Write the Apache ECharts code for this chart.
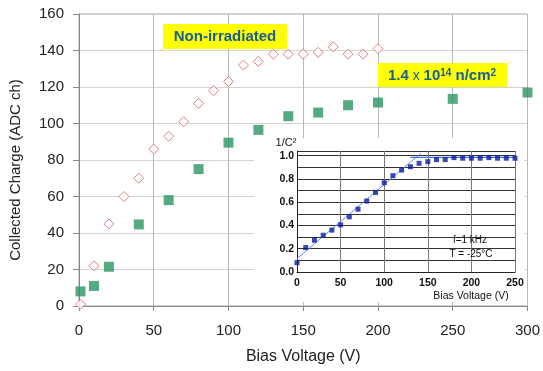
<!DOCTYPE html>
<html>
<head>
    <meta charset="utf-8">
    <script src="https://cdn.jsdelivr.net/npm/echarts@6/dist/echarts.min.js"></script>
</head>
<body style="margin:0;background:#fff">
<div id="chart" style="width:543px;height:371px"></div>
<script>
    // main chart: collected charge vs bias voltage
    var nonIrrVolt = [1, 10, 20, 30, 40, 50, 60, 70, 80, 90, 100, 110, 120, 130, 140, 150, 160, 170, 180, 190, 200];
    var nonIrrCharge = [1, 22, 45, 60, 70, 86, 93, 101, 111, 118, 123, 132, 134, 138, 138, 138, 139, 142, 138, 138, 141];
    var irrVolt = [1, 10, 20, 40, 60, 80, 100, 120, 140, 160, 180, 200, 250, 300];
    var irrCharge = [8, 11, 21.5, 44.7, 58, 75, 89.5, 96.5, 104, 106, 110, 111.5, 113.5, 117];

    // inset: 1/C^2 vs bias voltage
    var cvVolt = [0, 10, 20, 30, 40, 50, 60, 70, 80, 90, 100, 110, 120, 130, 140, 150, 160, 170, 180, 190, 200, 210, 220, 230, 240, 250];
    var cvValue = [0.08, 0.21, 0.273, 0.316, 0.36, 0.405, 0.474, 0.54, 0.61, 0.684, 0.767, 0.828, 0.876, 0.905, 0.934, 0.948,
        0.966, 0.966, 0.983, 0.978, 0.978, 0.978, 0.983, 0.978, 0.978, 0.978];
    var riseFit = [[0, 0.115], [142, 1.02]];
    var flatFit = [[130, 0.986], [250, 0.986]];

    var font = 'Arial, "Liberation Sans", sans-serif';
    var labelBlue = '#17608e';

    var pairs = function (xs, ys) {
        var res = [];
        for (var i = 0; i < xs.length; i++) {
            res.push([xs[i], ys[i]]);
        }
        return res;
    };

    var myChart = echarts.init(document.getElementById('chart'));

    var option = {
        animation: false,
        backgroundColor: '#fff',
        grid: [
            {left: 79, top: 14, width: 450, height: 292, show: true, borderColor: '#a0a0a0', borderWidth: 1},
            {left: 297, top: 151, width: 218, height: 121, z: 10}
        ],
        xAxis: [
            {
                type: 'value', gridIndex: 0, min: 0, max: 300, interval: 50,
                name: 'Bias Voltage (V)', nameLocation: 'middle', nameGap: 43,
                nameTextStyle: {fontFamily: font, fontSize: 16, color: '#222'},
                axisLine: {lineStyle: {color: '#888'}},
                axisTick: {show: true, inside: false, length: 5, lineStyle: {color: '#888'}},
                axisLabel: {fontFamily: font, fontSize: 15, color: '#222', margin: 17},
                splitLine: {lineStyle: {color: '#b8b8b8'}}
            },
            {
                type: 'value', gridIndex: 1, min: 0, max: 250, interval: 50, z: 10,
                axisLine: {lineStyle: {color: '#222'}},
                axisTick: {show: false},
                axisLabel: {fontFamily: font, fontSize: 10.5, fontWeight: 'bold', color: '#111', margin: 6},
                splitLine: {lineStyle: {color: '#777'}}
            }
        ],
        yAxis: [
            {
                type: 'value', gridIndex: 0, min: 0, max: 160, interval: 20,
                name: 'Collected Charge (ADC ch)', nameLocation: 'middle', nameGap: 56,
                nameTextStyle: {fontFamily: font, fontSize: 15, color: '#222', padding: [0, 20, 0, 0]},
                axisLine: {show: true, lineStyle: {color: '#888'}},
                axisTick: {show: true, inside: false, length: 6, lineStyle: {color: '#888'}},
                axisLabel: {fontFamily: font, fontSize: 15, color: '#222', margin: 15},
                splitLine: {lineStyle: {color: '#d4d4d4'}}
            },
            {
                type: 'value', gridIndex: 1, min: 0, max: 1.04, interval: 0.1, z: 10,
                axisLine: {show: true, lineStyle: {color: '#222'}},
                axisTick: {show: false},
                axisLabel: {
                    fontFamily: font, fontSize: 10.5, fontWeight: 'bold', color: '#111', margin: 3,
                    showMaxLabel: false,
                    formatter: function (v) {
                        return Math.round(v * 10) % 2 === 0 ? v.toFixed(1) : '';
                    }
                },
                splitLine: {lineStyle: {color: '#333'}}
            }
        ],
        graphic: {
            elements: [
                // white panel behind the inset
                {type: 'rect', z: 5, shape: {x: 254, y: 138, width: 270, height: 164}, style: {fill: '#fff'}},
                {type: 'rect', z: 20, shape: {x: 163, y: 24, width: 124, height: 25}, style: {fill: '#ffff00'}},
                {
                    type: 'text', z: 21, x: 225, y: 37,
                    style: {text: 'Non-irradiated', font: 'bold 15px ' + font, fill: labelBlue, align: 'center', verticalAlign: 'middle'}
                },
                {type: 'rect', z: 20, shape: {x: 378, y: 63, width: 129, height: 24}, style: {fill: '#ffff00'}},
                {
                    type: 'text', z: 21, x: 442, y: 76,
                    style: {
                        text: '{b|1.4}{n| x }{b|10}{s|14}{b| n/cm}{s|2}',
                        align: 'center', verticalAlign: 'middle',
                        rich: {
                            b: {font: 'bold 15px ' + font, fill: labelBlue},
                            n: {font: '14px ' + font, fill: labelBlue},
                            s: {font: 'bold 10px ' + font, fill: labelBlue, verticalAlign: 'top', padding: [0, 0, 5, 0]}
                        }
                    }
                },
                {
                    type: 'text', z: 21, x: 286, y: 143,
                    style: {text: '1/C²', font: '11px ' + font, fill: '#111', align: 'center', verticalAlign: 'middle'}
                },
                {
                    type: 'text', z: 21, x: 471, y: 296,
                    style: {text: 'Bias Voltage (V)', font: '10.5px ' + font, fill: '#111', align: 'center', verticalAlign: 'middle'}
                },
                {
                    type: 'text', z: 21, x: 470, y: 240,
                    style: {text: 'f=1 kHz', font: '10px ' + font, fill: '#111', align: 'center', verticalAlign: 'middle'}
                },
                {
                    type: 'text', z: 21, x: 471, y: 254,
                    style: {text: 'T = -25°C', font: '10px ' + font, fill: '#111', align: 'center', verticalAlign: 'middle'}
                }
            ]
        },
        series: [
            {
                name: 'Non-irradiated', type: 'scatter', xAxisIndex: 0, yAxisIndex: 0,
                symbol: 'diamond', symbolSize: 10,
                itemStyle: {color: '#fff', borderColor: '#d9625f', borderWidth: 1},
                data: pairs(nonIrrVolt, nonIrrCharge)
            },
            {
                name: '1.4e14', type: 'scatter', xAxisIndex: 0, yAxisIndex: 0,
                symbol: 'rect', symbolSize: 10,
                itemStyle: {color: '#2b9563'},
                data: pairs(irrVolt, irrCharge)
            },
            {
                type: 'line', xAxisIndex: 1, yAxisIndex: 1, z: 12, showSymbol: false,
                lineStyle: {color: '#5b8ff0', width: 1},
                data: riseFit
            },
            {
                type: 'line', xAxisIndex: 1, yAxisIndex: 1, z: 12, showSymbol: false,
                lineStyle: {color: '#3f74ec', width: 1.2},
                data: flatFit
            },
            {
                type: 'scatter', xAxisIndex: 1, yAxisIndex: 1, z: 13,
                symbol: 'rect', symbolSize: 5,
                itemStyle: {color: '#0a1aa0'},
                data: pairs(cvVolt, cvValue)
            }
        ]
    };
    myChart.setOption(option);
</script>
</body>
</html>
